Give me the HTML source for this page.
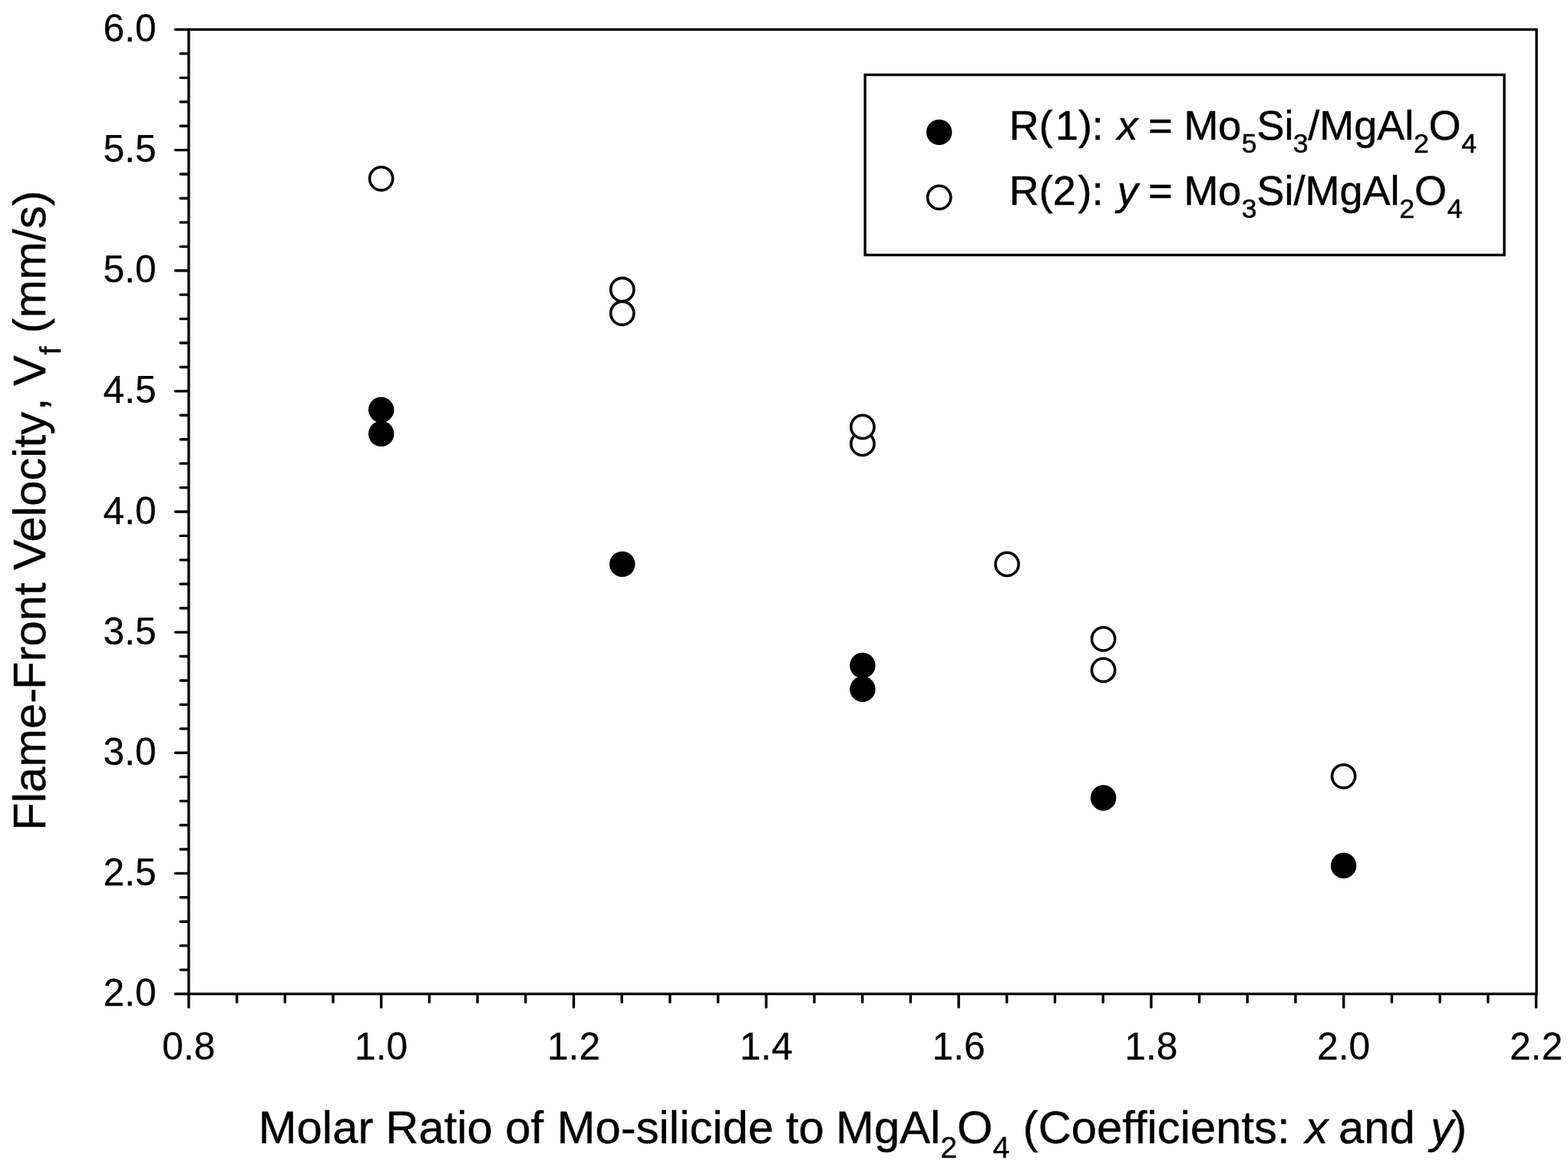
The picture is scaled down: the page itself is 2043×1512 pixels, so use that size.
<!DOCTYPE html>
<html lang="en">
<head>
<meta charset="utf-8">
<title>Flame-Front Velocity vs Molar Ratio</title>
<style>
html,body{margin:0;padding:0;background:#fff;}
body{width:2043px;height:1512px;overflow:hidden;}
svg{display:block;}
</style>
</head>
<body>
<svg width="2043" height="1512" viewBox="0 0 2043 1512">
<rect width="2043" height="1512" fill="#fff"/>
<g stroke="#000" stroke-width="3.4" fill="none" stroke-linecap="butt">
<rect x="245.9" y="38.5" width="1756.10" height="1257.00"/>
<line x1="228.50" y1="1295.50" x2="245.00" y2="1295.50" stroke-width="3.4" stroke-linecap="round"/>
<line x1="235.10" y1="1264.08" x2="245.00" y2="1264.08" stroke-width="3.4" stroke-linecap="round"/>
<line x1="235.10" y1="1232.65" x2="245.00" y2="1232.65" stroke-width="3.4" stroke-linecap="round"/>
<line x1="235.10" y1="1201.23" x2="245.00" y2="1201.23" stroke-width="3.4" stroke-linecap="round"/>
<line x1="235.10" y1="1169.80" x2="245.00" y2="1169.80" stroke-width="3.4" stroke-linecap="round"/>
<line x1="228.50" y1="1138.38" x2="245.00" y2="1138.38" stroke-width="3.4" stroke-linecap="round"/>
<line x1="235.10" y1="1106.95" x2="245.00" y2="1106.95" stroke-width="3.4" stroke-linecap="round"/>
<line x1="235.10" y1="1075.52" x2="245.00" y2="1075.52" stroke-width="3.4" stroke-linecap="round"/>
<line x1="235.10" y1="1044.10" x2="245.00" y2="1044.10" stroke-width="3.4" stroke-linecap="round"/>
<line x1="235.10" y1="1012.67" x2="245.00" y2="1012.67" stroke-width="3.4" stroke-linecap="round"/>
<line x1="228.50" y1="981.25" x2="245.00" y2="981.25" stroke-width="3.4" stroke-linecap="round"/>
<line x1="235.10" y1="949.83" x2="245.00" y2="949.83" stroke-width="3.4" stroke-linecap="round"/>
<line x1="235.10" y1="918.40" x2="245.00" y2="918.40" stroke-width="3.4" stroke-linecap="round"/>
<line x1="235.10" y1="886.98" x2="245.00" y2="886.98" stroke-width="3.4" stroke-linecap="round"/>
<line x1="235.10" y1="855.55" x2="245.00" y2="855.55" stroke-width="3.4" stroke-linecap="round"/>
<line x1="228.50" y1="824.12" x2="245.00" y2="824.12" stroke-width="3.4" stroke-linecap="round"/>
<line x1="235.10" y1="792.70" x2="245.00" y2="792.70" stroke-width="3.4" stroke-linecap="round"/>
<line x1="235.10" y1="761.27" x2="245.00" y2="761.27" stroke-width="3.4" stroke-linecap="round"/>
<line x1="235.10" y1="729.85" x2="245.00" y2="729.85" stroke-width="3.4" stroke-linecap="round"/>
<line x1="235.10" y1="698.42" x2="245.00" y2="698.42" stroke-width="3.4" stroke-linecap="round"/>
<line x1="228.50" y1="667.00" x2="245.00" y2="667.00" stroke-width="3.4" stroke-linecap="round"/>
<line x1="235.10" y1="635.58" x2="245.00" y2="635.58" stroke-width="3.4" stroke-linecap="round"/>
<line x1="235.10" y1="604.15" x2="245.00" y2="604.15" stroke-width="3.4" stroke-linecap="round"/>
<line x1="235.10" y1="572.72" x2="245.00" y2="572.72" stroke-width="3.4" stroke-linecap="round"/>
<line x1="235.10" y1="541.30" x2="245.00" y2="541.30" stroke-width="3.4" stroke-linecap="round"/>
<line x1="228.50" y1="509.88" x2="245.00" y2="509.88" stroke-width="3.4" stroke-linecap="round"/>
<line x1="235.10" y1="478.45" x2="245.00" y2="478.45" stroke-width="3.4" stroke-linecap="round"/>
<line x1="235.10" y1="447.02" x2="245.00" y2="447.02" stroke-width="3.4" stroke-linecap="round"/>
<line x1="235.10" y1="415.60" x2="245.00" y2="415.60" stroke-width="3.4" stroke-linecap="round"/>
<line x1="235.10" y1="384.17" x2="245.00" y2="384.17" stroke-width="3.4" stroke-linecap="round"/>
<line x1="228.50" y1="352.75" x2="245.00" y2="352.75" stroke-width="3.4" stroke-linecap="round"/>
<line x1="235.10" y1="321.33" x2="245.00" y2="321.33" stroke-width="3.4" stroke-linecap="round"/>
<line x1="235.10" y1="289.90" x2="245.00" y2="289.90" stroke-width="3.4" stroke-linecap="round"/>
<line x1="235.10" y1="258.47" x2="245.00" y2="258.47" stroke-width="3.4" stroke-linecap="round"/>
<line x1="235.10" y1="227.05" x2="245.00" y2="227.05" stroke-width="3.4" stroke-linecap="round"/>
<line x1="228.50" y1="195.62" x2="245.00" y2="195.62" stroke-width="3.4" stroke-linecap="round"/>
<line x1="235.10" y1="164.20" x2="245.00" y2="164.20" stroke-width="3.4" stroke-linecap="round"/>
<line x1="235.10" y1="132.77" x2="245.00" y2="132.77" stroke-width="3.4" stroke-linecap="round"/>
<line x1="235.10" y1="101.35" x2="245.00" y2="101.35" stroke-width="3.4" stroke-linecap="round"/>
<line x1="235.10" y1="69.92" x2="245.00" y2="69.92" stroke-width="3.4" stroke-linecap="round"/>
<line x1="228.50" y1="38.50" x2="245.00" y2="38.50" stroke-width="3.4" stroke-linecap="round"/>
<line x1="245.90" y1="1296.40" x2="245.90" y2="1312.90" stroke-width="3.4" stroke-linecap="round"/>
<line x1="308.60" y1="1296.40" x2="308.60" y2="1306.30" stroke-width="3.4" stroke-linecap="round"/>
<line x1="371.30" y1="1296.40" x2="371.30" y2="1306.30" stroke-width="3.4" stroke-linecap="round"/>
<line x1="434.00" y1="1296.40" x2="434.00" y2="1306.30" stroke-width="3.4" stroke-linecap="round"/>
<line x1="496.70" y1="1296.40" x2="496.70" y2="1312.90" stroke-width="3.4" stroke-linecap="round"/>
<line x1="559.40" y1="1296.40" x2="559.40" y2="1306.30" stroke-width="3.4" stroke-linecap="round"/>
<line x1="622.10" y1="1296.40" x2="622.10" y2="1306.30" stroke-width="3.4" stroke-linecap="round"/>
<line x1="684.80" y1="1296.40" x2="684.80" y2="1306.30" stroke-width="3.4" stroke-linecap="round"/>
<line x1="747.50" y1="1296.40" x2="747.50" y2="1312.90" stroke-width="3.4" stroke-linecap="round"/>
<line x1="810.20" y1="1296.40" x2="810.20" y2="1306.30" stroke-width="3.4" stroke-linecap="round"/>
<line x1="872.90" y1="1296.40" x2="872.90" y2="1306.30" stroke-width="3.4" stroke-linecap="round"/>
<line x1="935.60" y1="1296.40" x2="935.60" y2="1306.30" stroke-width="3.4" stroke-linecap="round"/>
<line x1="998.30" y1="1296.40" x2="998.30" y2="1312.90" stroke-width="3.4" stroke-linecap="round"/>
<line x1="1061.00" y1="1296.40" x2="1061.00" y2="1306.30" stroke-width="3.4" stroke-linecap="round"/>
<line x1="1123.70" y1="1296.40" x2="1123.70" y2="1306.30" stroke-width="3.4" stroke-linecap="round"/>
<line x1="1186.40" y1="1296.40" x2="1186.40" y2="1306.30" stroke-width="3.4" stroke-linecap="round"/>
<line x1="1249.10" y1="1296.40" x2="1249.10" y2="1312.90" stroke-width="3.4" stroke-linecap="round"/>
<line x1="1311.80" y1="1296.40" x2="1311.80" y2="1306.30" stroke-width="3.4" stroke-linecap="round"/>
<line x1="1374.50" y1="1296.40" x2="1374.50" y2="1306.30" stroke-width="3.4" stroke-linecap="round"/>
<line x1="1437.20" y1="1296.40" x2="1437.20" y2="1306.30" stroke-width="3.4" stroke-linecap="round"/>
<line x1="1499.90" y1="1296.40" x2="1499.90" y2="1312.90" stroke-width="3.4" stroke-linecap="round"/>
<line x1="1562.60" y1="1296.40" x2="1562.60" y2="1306.30" stroke-width="3.4" stroke-linecap="round"/>
<line x1="1625.30" y1="1296.40" x2="1625.30" y2="1306.30" stroke-width="3.4" stroke-linecap="round"/>
<line x1="1688.00" y1="1296.40" x2="1688.00" y2="1306.30" stroke-width="3.4" stroke-linecap="round"/>
<line x1="1750.70" y1="1296.40" x2="1750.70" y2="1312.90" stroke-width="3.4" stroke-linecap="round"/>
<line x1="1813.40" y1="1296.40" x2="1813.40" y2="1306.30" stroke-width="3.4" stroke-linecap="round"/>
<line x1="1876.10" y1="1296.40" x2="1876.10" y2="1306.30" stroke-width="3.4" stroke-linecap="round"/>
<line x1="1938.80" y1="1296.40" x2="1938.80" y2="1306.30" stroke-width="3.4" stroke-linecap="round"/>
<line x1="2001.50" y1="1296.40" x2="2001.50" y2="1312.90" stroke-width="3.4" stroke-linecap="round"/>
</g>
<g font-family="'Liberation Sans', Arial, Helvetica, sans-serif" font-size="49.75" fill="#000" stroke="#000" stroke-width="0.25" stroke-linejoin="round">
<text x="203.7" y="54.00" text-anchor="end">6.0</text>
<text x="203.7" y="211.12" text-anchor="end">5.5</text>
<text x="203.7" y="368.25" text-anchor="end">5.0</text>
<text x="203.7" y="525.38" text-anchor="end">4.5</text>
<text x="203.7" y="682.50" text-anchor="end">4.0</text>
<text x="203.7" y="839.62" text-anchor="end">3.5</text>
<text x="203.7" y="996.75" text-anchor="end">3.0</text>
<text x="203.7" y="1153.88" text-anchor="end">2.5</text>
<text x="203.7" y="1311.00" text-anchor="end">2.0</text>
<text x="245.90" y="1381.2" text-anchor="middle">0.8</text>
<text x="496.70" y="1381.2" text-anchor="middle">1.0</text>
<text x="747.50" y="1381.2" text-anchor="middle">1.2</text>
<text x="998.30" y="1381.2" text-anchor="middle">1.4</text>
<text x="1249.10" y="1381.2" text-anchor="middle">1.6</text>
<text x="1499.90" y="1381.2" text-anchor="middle">1.8</text>
<text x="1750.70" y="1381.2" text-anchor="middle">2.0</text>
<text x="2001.50" y="1381.2" text-anchor="middle">2.2</text>
</g>
<text font-family="'Liberation Sans', Arial, Helvetica, sans-serif" font-size="59.8" fill="#000" stroke="#000" stroke-width="0.4" stroke-linejoin="round" xml:space="preserve"><tspan x="336.79" y="1490.30">Molar </tspan><tspan x="502.29" y="1490.30">Ratio </tspan><tspan x="658.36" y="1490.30">of </tspan><tspan x="725.69" y="1490.30">Mo-silicide </tspan><tspan x="1023.89" y="1490.30">to </tspan><tspan x="1089.09" y="1490.30">MgAl</tspan><tspan x="1225.22" y="1509.10" font-size="39.47">2</tspan><tspan x="1247.04" y="1490.30">O</tspan><tspan x="1293.49" y="1509.10" font-size="39.47">4 </tspan><tspan x="1332.77" y="1490.30">(Coefficients: </tspan><tspan x="1700.47" y="1490.30" font-style="italic">x </tspan><tspan x="1744.10" y="1490.30">and </tspan><tspan x="1864.07" y="1490.30" font-style="italic">y</tspan><tspan x="1891.33" y="1490.30">)</tspan></text>
<text transform="translate(59.2 0) rotate(-90)" font-family="'Liberation Sans', Arial, Helvetica, sans-serif" font-size="59.8" fill="#000" stroke="#000" stroke-width="0.4" stroke-linejoin="round" xml:space="preserve"><tspan x="-1082.81" y="0.00">Flame-</tspan><tspan x="-898.91" y="0.00">Front </tspan><tspan x="-743.00" y="0.00">Velocity</tspan><tspan x="-535.25" y="0.00">, </tspan><tspan x="-503.00" y="0.00">V</tspan><tspan x="-462.57" y="19.40" font-size="39.47">f </tspan><tspan x="-434.43" y="0.00">(mm/s)</tspan></text>
<g fill="#000">
<circle cx="496.7" cy="534.2" r="16.7"/>
<circle cx="496.7" cy="565.4" r="16.7"/>
<circle cx="810.8" cy="735.4" r="16.7"/>
<circle cx="1123.9" cy="867.35" r="16.7"/>
<circle cx="1123.9" cy="898.3" r="16.7"/>
<circle cx="1437.6" cy="1040.0" r="16.7"/>
<circle cx="1750.6" cy="1128.3" r="16.7"/>
</g>
<g fill="#fff" stroke="#000" stroke-width="3.6">
<circle cx="496.7" cy="232.8" r="15.10"/>
<circle cx="810.8" cy="408.3" r="15.10"/>
<circle cx="810.8" cy="377.5" r="15.10"/>
<circle cx="1123.9" cy="578.4" r="15.10"/>
<circle cx="1123.9" cy="556.4" r="15.10"/>
<circle cx="1312.1" cy="735.4" r="15.10"/>
<circle cx="1437.6" cy="873.4" r="15.10"/>
<circle cx="1437.6" cy="832.9" r="15.10"/>
<circle cx="1750.6" cy="1011.8" r="15.10"/>
</g>
<rect x="1127.1" y="97.5" width="832.9" height="234.9" fill="#fff" stroke="#000" stroke-width="3.4"/>
<circle cx="1223.7" cy="172.4" r="16.7" fill="#000"/>
<circle cx="1223.7" cy="257.4" r="15.10" fill="#fff" stroke="#000" stroke-width="3.6"/>
<text font-family="'Liberation Sans', Arial, Helvetica, sans-serif" font-size="54.0" fill="#000" stroke="#000" stroke-width="0.5" stroke-linejoin="round" xml:space="preserve"><tspan x="1314.80" y="182.00">R(</tspan><tspan x="1375.00" y="182.00">1)</tspan><tspan x="1422.66" y="182.00">: </tspan><tspan x="1455.51" y="182.00" font-style="italic">x </tspan><tspan x="1496.36" y="182.00">= </tspan><tspan x="1542.40" y="182.00">Mo</tspan><tspan x="1617.84" y="199.00" font-size="35.64">5</tspan><tspan x="1637.38" y="182.00">Si</tspan><tspan x="1684.83" y="199.00" font-size="35.64">3</tspan><tspan x="1704.20" y="182.00">/MgAl</tspan><tspan x="1841.90" y="199.00" font-size="35.64">2</tspan><tspan x="1861.50" y="182.00">O</tspan><tspan x="1904.29" y="199.00" font-size="35.64">4</tspan></text>
<text font-family="'Liberation Sans', Arial, Helvetica, sans-serif" font-size="54.0" fill="#000" stroke="#000" stroke-width="0.5" stroke-linejoin="round" xml:space="preserve"><tspan x="1314.80" y="267.00">R(2</tspan><tspan x="1404.60" y="267.00">)</tspan><tspan x="1422.66" y="267.00">: </tspan><tspan x="1455.70" y="267.00" font-style="italic">y </tspan><tspan x="1496.36" y="267.00">= </tspan><tspan x="1542.40" y="267.00">Mo</tspan><tspan x="1617.83" y="284.00" font-size="35.64">3</tspan><tspan x="1637.38" y="267.00">Si/MgAl</tspan><tspan x="1823.30" y="284.00" font-size="35.64">2</tspan><tspan x="1842.90" y="267.00">O</tspan><tspan x="1885.69" y="284.00" font-size="35.64">4</tspan></text>
</svg>
</body>
</html>
